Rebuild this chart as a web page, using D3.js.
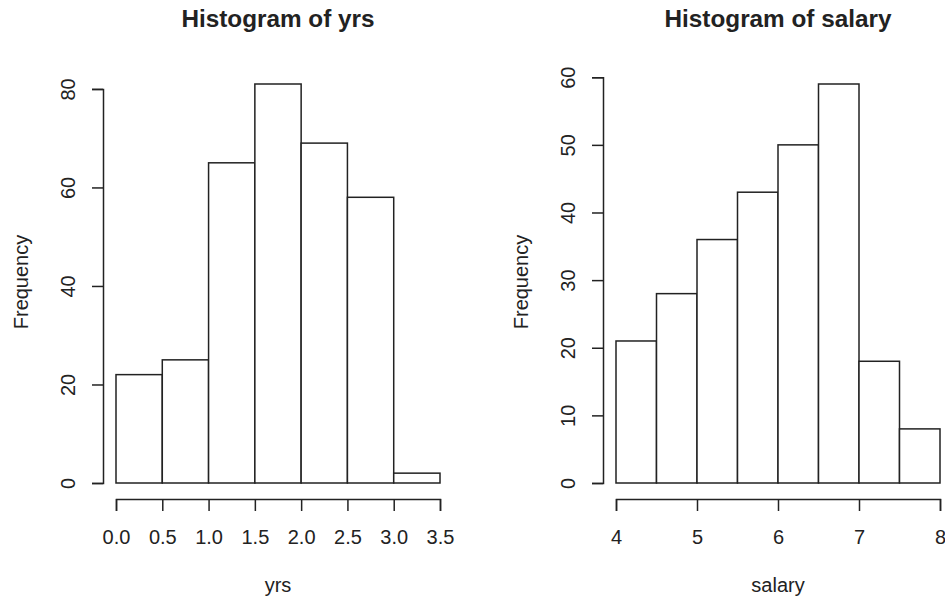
<!DOCTYPE html>
<html>
<head>
<meta charset="utf-8">
<script src="https://cdn.jsdelivr.net/npm/d3@7"></script>
<style>
  body { margin: 0; background: #fff; }
  text { font-family: "Liberation Sans", Arial, sans-serif; fill: #222; }
</style>
</head>
<body>
<div id="chart-area"></div>
<script>
// histogram bins (break points) and counts
const yrsBreaks = [0, 0.5, 1, 1.5, 2, 2.5, 3, 3.5];
const yrsCounts = [22, 25, 65, 81, 69, 58, 2];
const yrsTicksX = [0, 0.5, 1, 1.5, 2, 2.5, 3, 3.5];
const yrsTicksY = [0, 20, 40, 60, 80];

const salaryBreaks = [4, 4.5, 5, 5.5, 6, 6.5, 7, 7.5, 8];
const salaryCounts = [21, 28, 36, 43, 50, 59, 18, 8];
const salaryTicksX = [4, 5, 6, 7, 8];
const salaryTicksY = [0, 10, 20, 30, 40, 50, 60];

const widthSvg = 945;
const heightSvg = 600;
const ink = '#222';

const svg = d3.select('#chart-area')
  .append('svg')
    .attr('width', widthSvg)
    .attr('height', heightSvg);

const drawHist = (offsetX, title, xLabel, breaks, counts, ticksX, ticksY, fmtX) => {
  const g = svg.append('g')
    .attr('transform', `translate(${offsetX}, 0)`);

  const scaleX = d3.scaleLinear()
    .domain([breaks[0], breaks[breaks.length - 1]])
    .range([116, 440]);

  const scaleY = d3.scaleLinear()
    .domain([0, d3.max(counts)])
    .range([483, 84]);

  const bins = counts.map((c, i) => ({ x0: breaks[i], x1: breaks[i + 1], n: c }));

  g.selectAll('rect')
    .data(bins)
    .enter()
    .append('rect')
      .attr('x', d => scaleX(d.x0))
      .attr('y', d => scaleY(d.n))
      .attr('width', d => scaleX(d.x1) - scaleX(d.x0))
      .attr('height', d => scaleY(0) - scaleY(d.n))
      .attr('fill', '#fff')
      .attr('stroke', ink)
      .attr('stroke-width', 1.5);

  // x axis sits a bit below the baseline, like R
  const axisX = d3.axisBottom(scaleX)
    .tickValues(ticksX)
    .tickFormat(fmtX)
    .tickSizeOuter(0)
    .tickSize(12)
    .tickPadding(19);

  const gx = g.append('g')
    .attr('transform', 'translate(0, 499)')
    .call(axisX);

  // y axis line only runs from first to last tick
  const scaleYAxis = scaleY.copy()
    .domain([ticksY[0], ticksY[ticksY.length - 1]])
    .range([scaleY(ticksY[0]), scaleY(ticksY[ticksY.length - 1])]);

  const axisY = d3.axisLeft(scaleYAxis)
    .tickValues(ticksY)
    .tickSizeOuter(0)
    .tickSize(11);

  const gy = g.append('g')
    .attr('transform', 'translate(103, 0)')
    .call(axisY);

  gy.selectAll('.tick text')
    .attr('transform', 'rotate(-90)')
    .attr('x', 0)
    .attr('y', -28)
    .attr('dy', 0)
    .attr('text-anchor', 'middle');

  [gx, gy].forEach(a => {
    a.select('.domain').attr('stroke', ink).attr('stroke-width', 1.5);
    a.selectAll('.tick line').attr('stroke', ink).attr('stroke-width', 1.5);
    a.selectAll('.tick text')
      .attr('fill', ink)
      .style('font-size', '20px')
      .style('font-family', '"Liberation Sans", Arial, sans-serif');
  });

  g.append('text')
    .attr('x', 278)
    .attr('y', 27)
    .attr('text-anchor', 'middle')
    .style('font-size', '24.3px')
    .style('font-weight', 'bold')
    .text(title);

  g.append('text')
    .attr('x', 278)
    .attr('y', 592)
    .attr('text-anchor', 'middle')
    .style('font-size', '20px')
    .text(xLabel);

  g.append('text')
    .attr('transform', 'translate(28, 282) rotate(-90)')
    .attr('text-anchor', 'middle')
    .style('font-size', '20px')
    .text('Frequency');
};

drawHist(0, 'Histogram of yrs', 'yrs', yrsBreaks, yrsCounts, yrsTicksX, yrsTicksY, d3.format('.1f'));
drawHist(500, 'Histogram of salary', 'salary', salaryBreaks, salaryCounts, salaryTicksX, salaryTicksY, d3.format('d'));
</script>
</body>
</html>
